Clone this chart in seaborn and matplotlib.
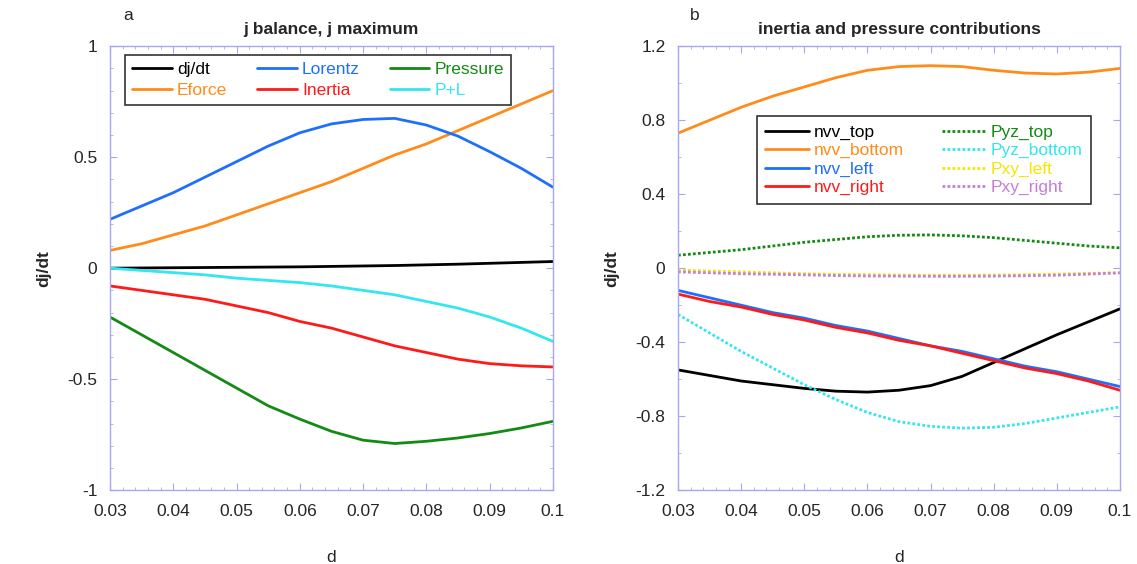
import seaborn as sns
import matplotlib.pyplot as plt
import pandas as pd
import numpy as np
from matplotlib.ticker import AutoMinorLocator, MultipleLocator

sns.set_style("ticks")
plt.rcParams['font.family'] = ['Liberation Sans', 'DejaVu Sans']

# shared x values (d)
d = [0.03, 0.035, 0.04, 0.045, 0.05, 0.055, 0.06, 0.065, 0.07, 0.075, 0.08, 0.085, 0.09, 0.095, 0.1]

# panel a: j balance
djdt = [0.0, 0.001, 0.002, 0.003, 0.004, 0.005, 0.006, 0.008, 0.01, 0.012, 0.015, 0.018, 0.022, 0.026, 0.03]
lorentz = [0.22, 0.28, 0.34, 0.41, 0.48, 0.55, 0.61, 0.65, 0.67, 0.675, 0.645, 0.595, 0.525, 0.45, 0.365]
pressure = [-0.22, -0.30, -0.38, -0.46, -0.54, -0.62, -0.68, -0.735, -0.775, -0.79, -0.78, -0.765, -0.745, -0.72, -0.69]
eforce = [0.08, 0.11, 0.15, 0.19, 0.24, 0.29, 0.34, 0.39, 0.45, 0.51, 0.56, 0.62, 0.68, 0.74, 0.80]
inertia = [-0.08, -0.10, -0.12, -0.14, -0.17, -0.20, -0.24, -0.27, -0.31, -0.35, -0.38, -0.41, -0.43, -0.44, -0.445]
p_plus_l = [0.0, -0.01, -0.02, -0.03, -0.045, -0.055, -0.065, -0.08, -0.10, -0.12, -0.15, -0.18, -0.22, -0.27, -0.33]

# panel b: inertia and pressure contributions
nvv_top = [-0.55, -0.58, -0.61, -0.63, -0.65, -0.665, -0.67, -0.66, -0.635, -0.585, -0.51, -0.435, -0.36, -0.29, -0.22]
nvv_bottom = [0.73, 0.80, 0.87, 0.93, 0.98, 1.03, 1.07, 1.09, 1.095, 1.09, 1.07, 1.055, 1.05, 1.06, 1.08]
nvv_left = [-0.12, -0.16, -0.20, -0.24, -0.27, -0.31, -0.34, -0.38, -0.42, -0.45, -0.49, -0.53, -0.56, -0.60, -0.64]
nvv_right = [-0.14, -0.18, -0.21, -0.25, -0.28, -0.32, -0.35, -0.39, -0.42, -0.46, -0.50, -0.54, -0.57, -0.61, -0.66]
pyz_top = [0.07, 0.085, 0.10, 0.12, 0.14, 0.155, 0.17, 0.178, 0.18, 0.175, 0.165, 0.15, 0.135, 0.12, 0.11]
pyz_bottom = [-0.25, -0.35, -0.45, -0.54, -0.63, -0.71, -0.78, -0.83, -0.855, -0.865, -0.86, -0.84, -0.81, -0.78, -0.75]
pxy_left = [-0.01, -0.015, -0.02, -0.025, -0.03, -0.033, -0.035, -0.037, -0.038, -0.038, -0.037, -0.035, -0.032, -0.028, -0.025]
pxy_right = [-0.02, -0.025, -0.03, -0.033, -0.036, -0.04, -0.042, -0.043, -0.044, -0.044, -0.043, -0.041, -0.038, -0.032, -0.025]

frame_col = "#a8a8f0"
dots = (0, (1, 0.8))

fig = plt.figure(figsize=(11.37, 5.64), dpi=100)
ax1 = fig.add_axes([0.0967, 0.131, 0.3896, 0.787])
ax2 = fig.add_axes([0.5963, 0.131, 0.3887, 0.787])

# legend of panel a fills row by row: dj/dt Lorentz Pressure / Eforce Inertia P+L
series_a = [
    ("dj/dt", djdt, "black"),
    ("Eforce", eforce, "#ff8c1a"),
    ("Lorentz", lorentz, "#1f6fff"),
    ("Inertia", inertia, "#ff1a1a"),
    ("Pressure", pressure, "#138a13"),
    ("P+L", p_plus_l, "#33e6f0"),
]
for name, vals, col in series_a:
    sns.lineplot(x=d, y=vals, ax=ax1, color=col, linewidth=2.0, label=name)

series_b = [
    ("nvv_top", nvv_top, "black", "-"),
    ("nvv_bottom", nvv_bottom, "#ff8c1a", "-"),
    ("nvv_left", nvv_left, "#1f6fff", "-"),
    ("nvv_right", nvv_right, "#ff1a1a", "-"),
    ("Pyz_top", pyz_top, "#138a13", dots),
    ("Pyz_bottom", pyz_bottom, "#33e6f0", dots),
    ("Pxy_left", pxy_left, "#f5e600", dots),
    ("Pxy_right", pxy_right, "#c57fd6", dots),
]
for name, vals, col, ls in series_b:
    sns.lineplot(x=d, y=vals, ax=ax2, color=col, linewidth=2.0, linestyle=ls, label=name)

for ax in (ax1, ax2):
    ax.set_xlim(0.03, 0.1)
    ax.xaxis.set_major_locator(MultipleLocator(0.01))
    ax.xaxis.set_minor_locator(AutoMinorLocator(5))
    ax.yaxis.set_minor_locator(AutoMinorLocator(5))
    ax.tick_params(which="both", direction="in", top=True, right=True, color=frame_col, labelsize=12.5)
    ax.tick_params(axis="x", which="major", pad=10)
    ax.tick_params(axis="y", which="major", pad=9)
    ax.tick_params(which="major", length=5)
    ax.tick_params(which="minor", length=2.5)
    for s in ax.spines.values():
        s.set_color(frame_col)
        s.set_linewidth(1.0)
    ax.set_xlabel("d", fontsize=12.5, labelpad=22)
    ax.set_ylabel("dj/dt", fontsize=12.5, fontweight="bold", labelpad=12)
    ax.xaxis.set_major_formatter(plt.FuncFormatter(lambda v, p: f"{v:g}"))
    ax.yaxis.set_major_formatter(plt.FuncFormatter(lambda v, p: f"{v:g}"))

ax1.set_ylim(-1, 1)
ax1.yaxis.set_major_locator(MultipleLocator(0.5))
ax2.set_ylim(-1.2, 1.2)
ax2.yaxis.set_major_locator(MultipleLocator(0.4))
ax2.yaxis.set_minor_locator(AutoMinorLocator(2))

ax1.set_title("j balance, j maximum", fontsize=12.5, fontweight="bold", pad=9)
ax2.set_title("inertia and pressure contributions", fontsize=12.5, fontweight="bold", pad=9)
fig.text(0.108, 0.965, "a", fontsize=12.5)
fig.text(0.607, 0.965, "b", fontsize=12.5)

leg1 = ax1.legend(ncol=3, loc="upper left", bbox_to_anchor=(0.034, 0.98), fontsize=12.5,
                  frameon=True, fancybox=False, edgecolor="black", handlelength=2.3,
                  columnspacing=1.7, labelspacing=0.3, borderpad=0.4, handletextpad=0.3,
                  borderaxespad=0)
leg1.get_frame().set_linewidth(1.2)
for txt, (_, _, col) in zip(leg1.get_texts(), series_a):
    txt.set_color(col)

leg2 = ax2.legend(ncol=2, loc="upper left", bbox_to_anchor=(0.178, 0.843), fontsize=12.5,
                  frameon=True, fancybox=False, edgecolor="black", handlelength=2.5,
                  columnspacing=2.2, labelspacing=0.18, borderpad=0.5, handletextpad=0.3,
                  borderaxespad=0)
leg2.get_frame().set_linewidth(1.2)
for txt, (_, _, col, _) in zip(leg2.get_texts(), series_b):
    txt.set_color(col)

plt.savefig("out.png", dpi=100)
plt.close()
